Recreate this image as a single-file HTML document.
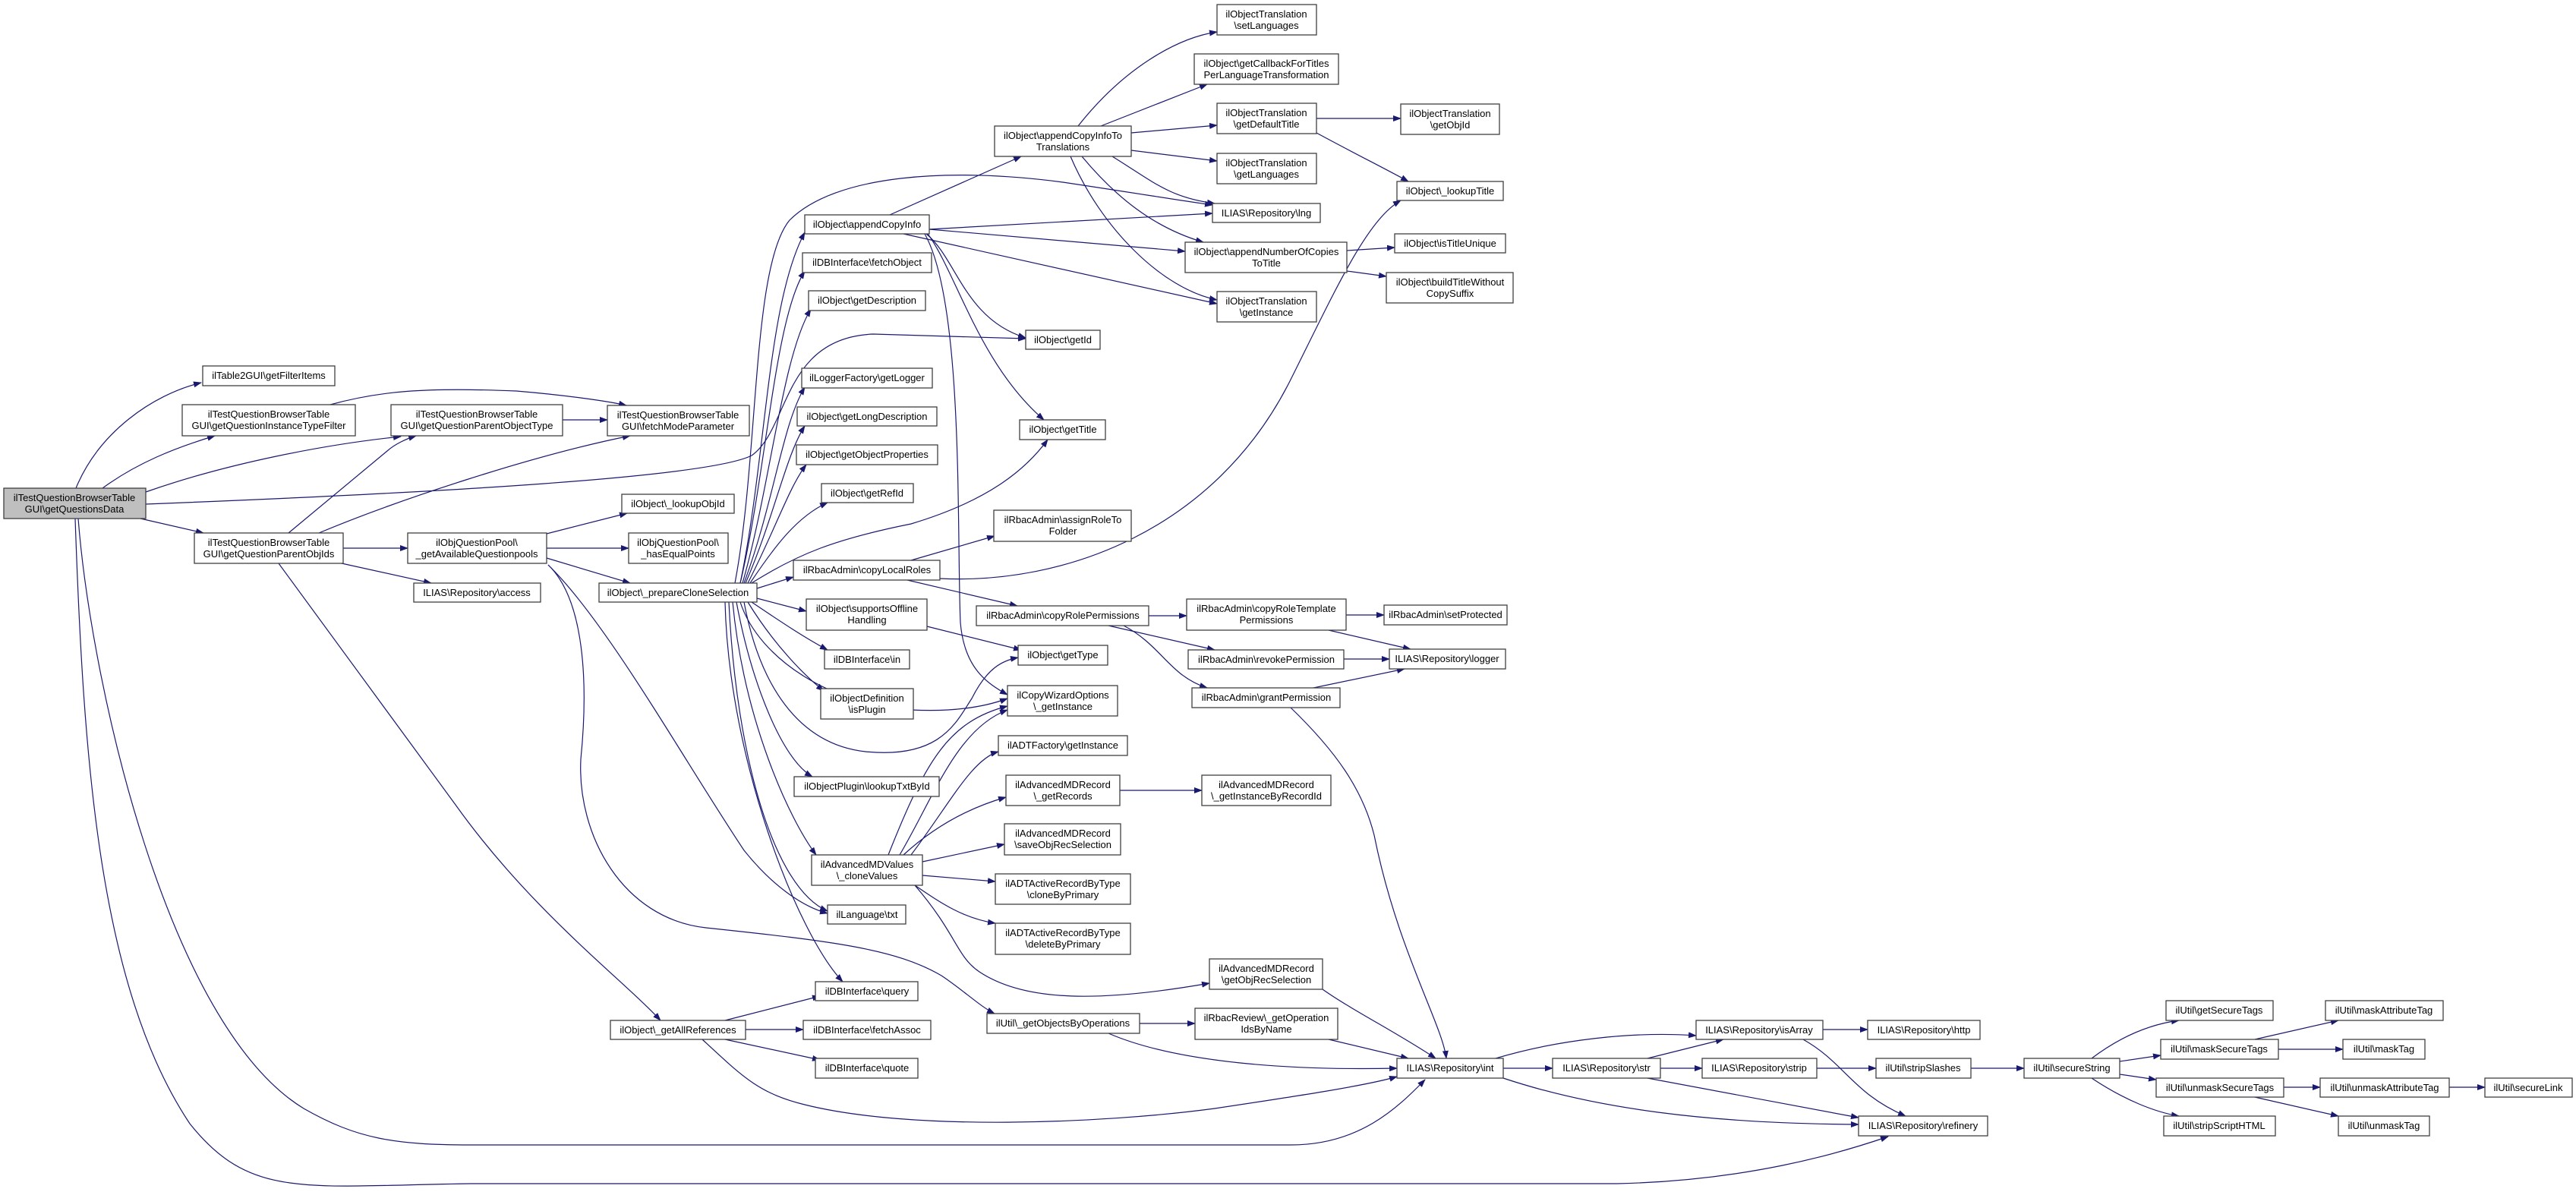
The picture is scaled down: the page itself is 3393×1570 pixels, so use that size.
<!DOCTYPE html>
<html><head><meta charset="utf-8"><style>
html,body{margin:0;padding:0;background:#fff;}
svg{display:block;}
text{font-family:"Liberation Sans",Arial,sans-serif;font-size:13px;fill:#000;text-anchor:middle;}
rect{fill:#fff;stroke:#404040;stroke-width:1.3;}
path.e{fill:none;stroke:#191970;stroke-width:1.2;}
</style></head><body>
<svg width="3393" height="1570" viewBox="0 0 3393 1570" xmlns="http://www.w3.org/2000/svg">
<defs><marker id="a" markerWidth="11" markerHeight="8" refX="10" refY="4" orient="auto" markerUnits="userSpaceOnUse"><path d="M0,0 L11,4 L0,8 z" fill="#191970"/></marker></defs>
<g marker-end="url(#a)">
<!-- root -->
<path class="e" d="M100,643 C130,570 200,520 265,504"/>
<path class="e" d="M135,643 C180,610 230,590 283,574"/>
<path class="e" d="M192,648 C300,610 430,585 528,575"/>
<path class="e" d="M192,664 C550,650 930,630 990,600 C1040,565 1030,445 1150,440 L1351,446"/>
<path class="e" d="M185,683 L268,702"/>
<path class="e" d="M103,683 C120,900 220,1350 400,1460 C470,1500 520,1508 620,1508 L1700,1508 C1790,1508 1840,1460 1877,1422"/>
<path class="e" d="M99,683 C110,1000 130,1300 250,1480 C330,1580 400,1562 620,1559 L2130,1559 C2300,1555 2420,1520 2487,1497"/>
<path class="e" d="M435,533 C500,515 560,510 680,515 C740,520 800,528 825,534"/>
<path class="e" d="M741,553 L800,553"/>
<path class="e" d="M380,702 L510,594 C520,585 535,578 548,574"/>
<path class="e" d="M420,702 C520,660 700,600 830,574"/>
<path class="e" d="M452,722 L537,722"/>
<path class="e" d="M450,742 L568,768"/>
<path class="e" d="M367,742 L600,1060 C700,1200 820,1290 870,1344"/>
<path class="e" d="M720,703 L826,676"/>
<path class="e" d="M720,722 L828,722"/>
<path class="e" d="M720,735 L830,768"/>
<path class="e" d="M722,744 C770,790 775,900 765,1000 C760,1100 820,1210 930,1222 C1100,1240 1180,1250 1240,1285 C1270,1305 1290,1325 1310,1335"/>
<path class="e" d="M722,744 C800,820 900,1000 980,1120 C1020,1170 1060,1195 1090,1203"/>
<path class="e" d="M955,1344 L1080,1312"/>
<path class="e" d="M982,1356 L1058,1356"/>
<path class="e" d="M955,1369 L1080,1396"/>
<path class="e" d="M925,1369 C980,1420 1000,1440 1060,1455 C1200,1490 1450,1480 1600,1460 C1700,1445 1800,1430 1840,1418"/>
<!-- prepareCloneSelection -->
<path class="e" d="M975,768 C1010,600 1010,400 1060,306"/>
<path class="e" d="M975,768 C1010,620 1020,420 1060,357"/>
<path class="e" d="M978,768 C1015,640 1030,470 1068,407"/>
<path class="e" d="M980,768 C1020,660 1030,560 1060,510"/>
<path class="e" d="M982,768 C1020,680 1035,600 1060,561"/>
<path class="e" d="M985,768 C1020,700 1040,640 1062,612"/>
<path class="e" d="M988,768 C1020,720 1050,680 1090,662"/>
<path class="e" d="M990,768 C1050,730 1100,710 1200,690 C1300,660 1350,620 1380,579"/>
<path class="e" d="M968,768 C1000,600 990,350 1040,290 C1100,230 1250,220 1400,240 C1500,255 1560,265 1597,270"/>
<path class="e" d="M997,775 L1045,760"/>
<path class="e" d="M997,788 L1062,805"/>
<path class="e" d="M990,793 C1030,820 1060,840 1090,856"/>
<path class="e" d="M985,793 C1020,850 1060,890 1085,910"/>
<path class="e" d="M980,793 C1000,900 1050,980 1140,990 C1240,1000 1260,950 1280,920 C1300,880 1320,870 1341,866"/>
<path class="e" d="M975,793 C1000,870 1100,930 1200,935 C1260,938 1300,930 1327,920"/>
<path class="e" d="M970,793 C990,900 1030,1000 1070,1023"/>
<path class="e" d="M965,793 C980,950 1040,1080 1075,1126"/>
<path class="e" d="M960,793 C970,1000 1020,1170 1090,1200"/>
<path class="e" d="M955,793 C960,1000 1050,1230 1110,1293"/>
<!-- appendCopyInfo -->
<path class="e" d="M1172,283 L1345,206"/>
<path class="e" d="M1224,302 L1597,281"/>
<path class="e" d="M1224,302 L1561,331"/>
<path class="e" d="M1190,308 L1603,400"/>
<path class="e" d="M1220,308 C1260,340 1270,420 1351,445"/>
<path class="e" d="M1222,308 C1260,360 1290,480 1375,553"/>
<path class="e" d="M1218,308 C1270,400 1260,700 1265,820 C1270,880 1300,900 1327,915"/>
<!-- appendCopyInfoToTranslations -->
<path class="e" d="M1420,166 C1480,90 1550,50 1603,42"/>
<path class="e" d="M1450,166 L1590,111"/>
<path class="e" d="M1490,175 L1603,165"/>
<path class="e" d="M1490,198 L1603,212"/>
<path class="e" d="M1465,206 C1520,240 1540,260 1600,268"/>
<path class="e" d="M1425,206 C1470,260 1520,300 1585,319"/>
<path class="e" d="M1410,206 C1450,300 1530,380 1603,395"/>
<path class="e" d="M1734,156 L1845,156"/>
<path class="e" d="M1734,175 C1780,200 1830,225 1855,239"/>
<path class="e" d="M1774,330 L1837,326"/>
<path class="e" d="M1774,357 L1826,364"/>
<!-- rbac -->
<path class="e" d="M1238,762 C1400,770 1600,700 1700,500 C1760,380 1800,290 1845,264"/>
<path class="e" d="M1200,738 L1310,706"/>
<path class="e" d="M1195,764 L1340,798"/>
<path class="e" d="M1513,811 L1563,811"/>
<path class="e" d="M1460,824 L1600,856"/>
<path class="e" d="M1480,824 C1530,850 1540,890 1590,906"/>
<path class="e" d="M1773,810 L1823,810"/>
<path class="e" d="M1750,830 L1858,855"/>
<path class="e" d="M1770,868 L1830,868"/>
<path class="e" d="M1730,906 L1850,881"/>
<path class="e" d="M1700,932 C1760,990 1795,1040 1810,1100 C1840,1250 1900,1350 1905,1394"/>
<path class="e" d="M1221,825 L1345,856"/>
<!-- cloneValues -->
<path class="e" d="M1200,1126 C1250,1060 1280,1000 1315,990"/>
<path class="e" d="M1190,1126 C1240,1080 1290,1060 1325,1050"/>
<path class="e" d="M1185,1126 C1230,1050 1260,960 1327,935"/>
<path class="e" d="M1170,1126 C1220,1000 1250,950 1327,930"/>
<path class="e" d="M1215,1135 L1323,1112"/>
<path class="e" d="M1215,1153 L1311,1161"/>
<path class="e" d="M1205,1166 C1240,1190 1270,1210 1311,1216"/>
<path class="e" d="M1205,1166 C1260,1230 1260,1260 1290,1280 C1350,1320 1450,1320 1593,1295"/>
<path class="e" d="M1475,1041 L1583,1041"/>
<path class="e" d="M1501,1348 L1574,1348"/>
<path class="e" d="M1460,1361 C1550,1400 1700,1410 1840,1407"/>
<path class="e" d="M1750,1369 L1855,1394"/>
<path class="e" d="M1742,1303 C1780,1330 1840,1360 1891,1394"/>
<!-- right -->
<path class="e" d="M1980,1407 L2045,1407"/>
<path class="e" d="M1970,1394 C2050,1370 2150,1358 2234,1364"/>
<path class="e" d="M1980,1420 C2100,1460 2250,1480 2448,1481"/>
<path class="e" d="M2170,1394 L2270,1369"/>
<path class="e" d="M2187,1407 L2242,1407"/>
<path class="e" d="M2170,1420 L2448,1472"/>
<path class="e" d="M2401,1356 L2460,1356"/>
<path class="e" d="M2375,1369 C2430,1400 2440,1440 2510,1470"/>
<path class="e" d="M2393,1407 L2471,1407"/>
<path class="e" d="M2596,1407 L2666,1407"/>
<path class="e" d="M2755,1394 C2800,1360 2840,1348 2870,1344"/>
<path class="e" d="M2792,1398 L2846,1390"/>
<path class="e" d="M2792,1415 L2840,1422"/>
<path class="e" d="M2755,1420 C2800,1450 2840,1465 2870,1470"/>
<path class="e" d="M2970,1369 L3080,1344"/>
<path class="e" d="M3001,1382 L3086,1382"/>
<path class="e" d="M3008,1432 L3056,1432"/>
<path class="e" d="M2970,1445 L3080,1470"/>
<path class="e" d="M3226,1432 L3273,1432"/>
</g>
<!-- nodes -->
<rect x="5" y="643" width="187" height="40" style="fill:#bfbfbf"/><text x="98" y="660">ilTestQuestionBrowserTable</text><text x="98" y="675">GUI\getQuestionsData</text>
<rect x="267" y="482" width="174" height="26"/><text x="354" y="499">ilTable2GUI\getFilterItems</text>
<rect x="240" y="533" width="228" height="41"/><text x="354" y="550">ilTestQuestionBrowserTable</text><text x="354" y="565">GUI\getQuestionInstanceTypeFilter</text>
<rect x="515" y="533" width="226" height="41"/><text x="628" y="550">ilTestQuestionBrowserTable</text><text x="628" y="565">GUI\getQuestionParentObjectType</text>
<rect x="800" y="534" width="187" height="40"/><text x="893" y="551">ilTestQuestionBrowserTable</text><text x="893" y="566">GUI\fetchModeParameter</text>
<rect x="256" y="702" width="196" height="40"/><text x="354" y="719">ilTestQuestionBrowserTable</text><text x="354" y="734">GUI\getQuestionParentObjIds</text>
<rect x="537" y="702" width="183" height="40"/><text x="628" y="719">ilObjQuestionPool\</text><text x="628" y="734">_getAvailableQuestionpools</text>
<rect x="545" y="768" width="167" height="25"/><text x="628" y="785">ILIAS\Repository\access</text>
<rect x="819" y="651" width="148" height="25"/><text x="893" y="668">ilObject\_lookupObjId</text>
<rect x="828" y="702" width="131" height="40"/><text x="893" y="719">ilObjQuestionPool\</text><text x="893" y="734">_hasEqualPoints</text>
<rect x="789" y="768" width="208" height="25"/><text x="893" y="785">ilObject\_prepareCloneSelection</text>
<rect x="804" y="1344" width="178" height="25"/><text x="893" y="1361">ilObject\_getAllReferences</text>
<rect x="1060" y="283" width="164" height="25"/><text x="1142" y="300">ilObject\appendCopyInfo</text>
<rect x="1057" y="333" width="170" height="26"/><text x="1142" y="350">ilDBInterface\fetchObject</text>
<rect x="1065" y="383" width="154" height="26"/><text x="1142" y="400">ilObject\getDescription</text>
<rect x="1056" y="485" width="172" height="26"/><text x="1142" y="502">ilLoggerFactory\getLogger</text>
<rect x="1050" y="536" width="184" height="25"/><text x="1142" y="553">ilObject\getLongDescription</text>
<rect x="1049" y="586" width="186" height="26"/><text x="1142" y="603">ilObject\getObjectProperties</text>
<rect x="1082" y="637" width="121" height="25"/><text x="1142" y="654">ilObject\getRefId</text>
<rect x="1045" y="738" width="193" height="26"/><text x="1142" y="755">ilRbacAdmin\copyLocalRoles</text>
<rect x="1062" y="789" width="159" height="41"/><text x="1142" y="806">ilObject\supportsOffline</text><text x="1142" y="821">Handling</text>
<rect x="1086" y="856" width="112" height="25"/><text x="1142" y="873">ilDBInterface\in</text>
<rect x="1081" y="907" width="122" height="40"/><text x="1142" y="924">ilObjectDefinition</text><text x="1142" y="939">\isPlugin</text>
<rect x="1046" y="1023" width="191" height="26"/><text x="1142" y="1040">ilObjectPlugin\lookupTxtById</text>
<rect x="1069" y="1126" width="146" height="40"/><text x="1142" y="1143">ilAdvancedMDValues</text><text x="1142" y="1158">\_cloneValues</text>
<rect x="1090" y="1192" width="103" height="25"/><text x="1142" y="1209">ilLanguage\txt</text>
<rect x="1074" y="1293" width="135" height="25"/><text x="1142" y="1310">ilDBInterface\query</text>
<rect x="1058" y="1344" width="168" height="25"/><text x="1142" y="1361">ilDBInterface\fetchAssoc</text>
<rect x="1074" y="1394" width="135" height="26"/><text x="1142" y="1411">ilDBInterface\quote</text>
<rect x="1310" y="166" width="180" height="40"/><text x="1400" y="183">ilObject\appendCopyInfoTo</text><text x="1400" y="198">Translations</text>
<rect x="1351" y="435" width="98" height="25"/><text x="1400" y="452">ilObject\getId</text>
<rect x="1343" y="553" width="113" height="26"/><text x="1400" y="570">ilObject\getTitle</text>
<rect x="1309" y="672" width="181" height="41"/><text x="1400" y="689">ilRbacAdmin\assignRoleTo</text><text x="1400" y="704">Folder</text>
<rect x="1286" y="798" width="227" height="26"/><text x="1400" y="815">ilRbacAdmin\copyRolePermissions</text>
<rect x="1341" y="850" width="118" height="26"/><text x="1400" y="867">ilObject\getType</text>
<rect x="1327" y="903" width="145" height="40"/><text x="1400" y="920">ilCopyWizardOptions</text><text x="1400" y="935">\_getInstance</text>
<rect x="1315" y="969" width="170" height="26"/><text x="1400" y="986">ilADTFactory\getInstance</text>
<rect x="1325" y="1021" width="150" height="40"/><text x="1400" y="1038">ilAdvancedMDRecord</text><text x="1400" y="1053">\_getRecords</text>
<rect x="1323" y="1085" width="153" height="41"/><text x="1400" y="1102">ilAdvancedMDRecord</text><text x="1400" y="1117">\saveObjRecSelection</text>
<rect x="1311" y="1151" width="178" height="40"/><text x="1400" y="1168">ilADTActiveRecordByType</text><text x="1400" y="1183">\cloneByPrimary</text>
<rect x="1311" y="1216" width="178" height="41"/><text x="1400" y="1233">ilADTActiveRecordByType</text><text x="1400" y="1248">\deleteByPrimary</text>
<rect x="1300" y="1335" width="201" height="26"/><text x="1400" y="1352">ilUtil\_getObjectsByOperations</text>
<rect x="1603" y="6" width="131" height="40"/><text x="1668" y="23">ilObjectTranslation</text><text x="1668" y="38">\setLanguages</text>
<rect x="1573" y="71" width="190" height="40"/><text x="1668" y="88">ilObject\getCallbackForTitles</text><text x="1668" y="103">PerLanguageTransformation</text>
<rect x="1603" y="136" width="131" height="40"/><text x="1668" y="153">ilObjectTranslation</text><text x="1668" y="168">\getDefaultTitle</text>
<rect x="1603" y="202" width="131" height="40"/><text x="1668" y="219">ilObjectTranslation</text><text x="1668" y="234">\getLanguages</text>
<rect x="1597" y="268" width="142" height="25"/><text x="1668" y="285">ILIAS\Repository\lng</text>
<rect x="1561" y="319" width="213" height="40"/><text x="1668" y="336">ilObject\appendNumberOfCopies</text><text x="1668" y="351">ToTitle</text>
<rect x="1603" y="384" width="131" height="40"/><text x="1668" y="401">ilObjectTranslation</text><text x="1668" y="416">\getInstance</text>
<rect x="1563" y="789" width="210" height="41"/><text x="1668" y="806">ilRbacAdmin\copyRoleTemplate</text><text x="1668" y="821">Permissions</text>
<rect x="1565" y="856" width="205" height="25"/><text x="1668" y="873">ilRbacAdmin\revokePermission</text>
<rect x="1570" y="906" width="195" height="26"/><text x="1668" y="923">ilRbacAdmin\grantPermission</text>
<rect x="1583" y="1021" width="170" height="40"/><text x="1668" y="1038">ilAdvancedMDRecord</text><text x="1668" y="1053">\_getInstanceByRecordId</text>
<rect x="1593" y="1263" width="149" height="40"/><text x="1668" y="1280">ilAdvancedMDRecord</text><text x="1668" y="1295">\getObjRecSelection</text>
<rect x="1574" y="1328" width="188" height="41"/><text x="1668" y="1345">ilRbacReview\_getOperation</text><text x="1668" y="1360">IdsByName</text>
<rect x="1845" y="137" width="130" height="40"/><text x="1910" y="154">ilObjectTranslation</text><text x="1910" y="169">\getObjId</text>
<rect x="1840" y="239" width="140" height="25"/><text x="1910" y="256">ilObject\_lookupTitle</text>
<rect x="1837" y="308" width="146" height="25"/><text x="1910" y="325">ilObject\isTitleUnique</text>
<rect x="1826" y="359" width="167" height="40"/><text x="1910" y="376">ilObject\buildTitleWithout</text><text x="1910" y="391">CopySuffix</text>
<rect x="1823" y="797" width="162" height="26"/><text x="1904" y="814">ilRbacAdmin\setProtected</text>
<rect x="1830" y="855" width="153" height="26"/><text x="1906" y="872">ILIAS\Repository\logger</text>
<rect x="1840" y="1394" width="140" height="26"/><text x="1910" y="1411">ILIAS\Repository\int</text>
<rect x="2045" y="1394" width="142" height="26"/><text x="2116" y="1411">ILIAS\Repository\str</text>
<rect x="2234" y="1344" width="167" height="25"/><text x="2317" y="1361">ILIAS\Repository\isArray</text>
<rect x="2242" y="1394" width="151" height="26"/><text x="2317" y="1411">ILIAS\Repository\strip</text>
<rect x="2460" y="1344" width="148" height="25"/><text x="2534" y="1361">ILIAS\Repository\http</text>
<rect x="2471" y="1394" width="125" height="26"/><text x="2533" y="1411">ilUtil\stripSlashes</text>
<rect x="2448" y="1470" width="170" height="26"/><text x="2533" y="1487">ILIAS\Repository\refinery</text>
<rect x="2666" y="1394" width="126" height="26"/><text x="2729" y="1411">ilUtil\secureString</text>
<rect x="2853" y="1318" width="141" height="26"/><text x="2923" y="1335">ilUtil\getSecureTags</text>
<rect x="2846" y="1369" width="155" height="26"/><text x="2923" y="1386">ilUtil\maskSecureTags</text>
<rect x="2840" y="1420" width="168" height="25"/><text x="2924" y="1437">ilUtil\unmaskSecureTags</text>
<rect x="2850" y="1470" width="147" height="26"/><text x="2923" y="1487">ilUtil\stripScriptHTML</text>
<rect x="3063" y="1318" width="155" height="26"/><text x="3140" y="1335">ilUtil\maskAttributeTag</text>
<rect x="3086" y="1369" width="108" height="26"/><text x="3140" y="1386">ilUtil\maskTag</text>
<rect x="3056" y="1420" width="170" height="25"/><text x="3141" y="1437">ilUtil\unmaskAttributeTag</text>
<rect x="3273" y="1420" width="115" height="25"/><text x="3330" y="1437">ilUtil\secureLink</text>
<rect x="3080" y="1470" width="120" height="26"/><text x="3140" y="1487">ilUtil\unmaskTag</text>
</svg>
</body></html>
